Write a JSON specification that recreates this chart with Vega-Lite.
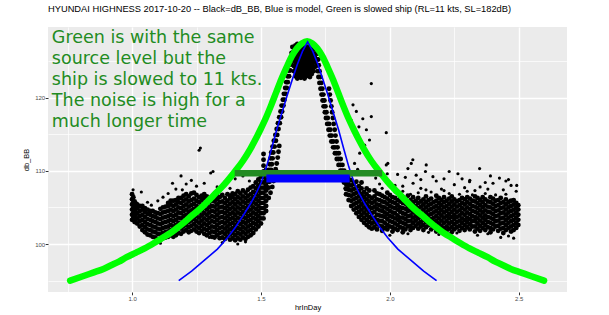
{
"$schema": "https://vega.github.io/schema/vega-lite/v6.json",
"width": 519, "height": 265,
"autosize": {"type": "none"},
"padding": {"left": 48, "top": 27, "right": 42, "bottom": 23},
"background": "white",
"title": {"text": "HYUNDAI HIGHNESS 2017-10-20 -- Black=dB_BB, Blue is model, Green is slowed ship (RL=11 kts, SL=182dB)", "anchor": "start", "frame": "group", "font": "Liberation Sans", "fontSize": 9.3, "fontWeight": "normal", "color": "black", "baseline": "alphabetic", "offset": 6},
"config": {
 "view": {"fill": "#EBEBEB", "stroke": null},
 "axis": {"domain": false, "grid": true, "gridColor": "white", "labelFont": "Liberation Sans", "titleFont": "Liberation Sans", "labelColor": "#4D4D4D", "tickColor": "#333333", "titleColor": "black", "titleFontWeight": "normal", "labelFontSize": 6, "titleFontSize": 7.5, "tickSize": 2.8, "labelOverlap": false}
},
"datasets": {
 "core": [
{"x":1.000,"y":103.3},{"x":1.000,"y":104.0},{"x":1.000,"y":104.7},{"x":1.000,"y":105.4},{"x":1.000,"y":106.1},{"x":1.000,"y":106.8},
{"x":1.005,"y":103.6},{"x":1.005,"y":104.3},{"x":1.005,"y":105.0},{"x":1.005,"y":105.7},{"x":1.005,"y":106.4},
{"x":1.010,"y":103.0},{"x":1.010,"y":103.7},{"x":1.010,"y":104.4},{"x":1.010,"y":105.1},{"x":1.010,"y":105.8},
{"x":1.015,"y":103.4},{"x":1.015,"y":104.1},{"x":1.015,"y":104.8},{"x":1.015,"y":105.5},
{"x":1.020,"y":102.8},{"x":1.020,"y":103.5},{"x":1.020,"y":104.2},{"x":1.020,"y":104.9},{"x":1.020,"y":105.4},
{"x":1.030,"y":102.4},{"x":1.030,"y":103.1},{"x":1.030,"y":103.8},{"x":1.030,"y":104.5},{"x":1.030,"y":105.2},
{"x":1.040,"y":101.9},{"x":1.040,"y":102.6},{"x":1.040,"y":103.3},{"x":1.040,"y":104.0},{"x":1.040,"y":104.7},{"x":1.040,"y":105.2},
{"x":1.050,"y":101.6},{"x":1.050,"y":102.3},{"x":1.050,"y":103.0},{"x":1.050,"y":103.7},{"x":1.050,"y":104.4},{"x":1.050,"y":104.9},
{"x":1.060,"y":101.3},{"x":1.060,"y":102.0},{"x":1.060,"y":102.7},{"x":1.060,"y":103.4},{"x":1.060,"y":104.1},{"x":1.060,"y":104.7},
{"x":1.070,"y":101.2},{"x":1.070,"y":101.9},{"x":1.070,"y":102.6},{"x":1.070,"y":103.3},{"x":1.070,"y":104.0},{"x":1.070,"y":104.5},
{"x":1.080,"y":101.0},{"x":1.080,"y":101.7},{"x":1.080,"y":102.4},{"x":1.080,"y":103.1},{"x":1.080,"y":103.8},{"x":1.080,"y":104.5},
{"x":1.090,"y":100.9},{"x":1.090,"y":101.6},{"x":1.090,"y":102.3},{"x":1.090,"y":103.0},{"x":1.090,"y":103.7},{"x":1.090,"y":104.3},
{"x":1.100,"y":100.7},{"x":1.100,"y":101.4},{"x":1.100,"y":102.1},{"x":1.100,"y":102.8},{"x":1.100,"y":103.5},{"x":1.100,"y":104.2},
{"x":1.110,"y":100.6},{"x":1.110,"y":101.3},{"x":1.110,"y":102.0},{"x":1.110,"y":102.7},{"x":1.110,"y":103.4},{"x":1.110,"y":104.1},{"x":1.110,"y":104.8},
{"x":1.120,"y":100.8},{"x":1.120,"y":101.5},{"x":1.120,"y":102.2},{"x":1.120,"y":102.9},{"x":1.120,"y":103.6},{"x":1.120,"y":104.3},{"x":1.120,"y":105.0},
{"x":1.130,"y":100.9},{"x":1.130,"y":101.6},{"x":1.130,"y":102.3},{"x":1.130,"y":103.0},{"x":1.130,"y":103.7},{"x":1.130,"y":104.4},{"x":1.130,"y":105.1},
{"x":1.140,"y":101.0},{"x":1.140,"y":101.7},{"x":1.140,"y":102.4},{"x":1.140,"y":103.1},{"x":1.140,"y":103.8},{"x":1.140,"y":104.5},{"x":1.140,"y":105.2},{"x":1.140,"y":105.6},
{"x":1.150,"y":101.2},{"x":1.150,"y":101.9},{"x":1.150,"y":102.6},{"x":1.150,"y":103.3},{"x":1.150,"y":104.0},{"x":1.150,"y":104.7},{"x":1.150,"y":105.4},{"x":1.150,"y":105.9},
{"x":1.160,"y":101.0},{"x":1.160,"y":101.7},{"x":1.160,"y":102.4},{"x":1.160,"y":103.1},{"x":1.160,"y":103.8},{"x":1.160,"y":104.5},{"x":1.160,"y":105.2},{"x":1.160,"y":105.9},
{"x":1.170,"y":101.2},{"x":1.170,"y":101.9},{"x":1.170,"y":102.6},{"x":1.170,"y":103.3},{"x":1.170,"y":104.0},{"x":1.170,"y":104.7},{"x":1.170,"y":105.4},{"x":1.170,"y":106.0},
{"x":1.180,"y":101.5},{"x":1.180,"y":102.2},{"x":1.180,"y":102.9},{"x":1.180,"y":103.6},{"x":1.180,"y":104.3},{"x":1.180,"y":105.0},{"x":1.180,"y":105.7},{"x":1.180,"y":106.3},
{"x":1.190,"y":101.4},{"x":1.190,"y":102.1},{"x":1.190,"y":102.8},{"x":1.190,"y":103.5},{"x":1.190,"y":104.2},{"x":1.190,"y":104.9},{"x":1.190,"y":105.6},{"x":1.190,"y":106.3},
{"x":1.200,"y":101.7},{"x":1.200,"y":102.4},{"x":1.200,"y":103.1},{"x":1.200,"y":103.8},{"x":1.200,"y":104.5},{"x":1.200,"y":105.2},{"x":1.200,"y":105.9},{"x":1.200,"y":106.6},
{"x":1.210,"y":101.9},{"x":1.210,"y":102.6},{"x":1.210,"y":103.3},{"x":1.210,"y":104.0},{"x":1.210,"y":104.7},{"x":1.210,"y":105.4},{"x":1.210,"y":106.1},{"x":1.210,"y":106.8},
{"x":1.220,"y":101.6},{"x":1.220,"y":102.3},{"x":1.220,"y":103.0},{"x":1.220,"y":103.7},{"x":1.220,"y":104.4},{"x":1.220,"y":105.1},{"x":1.220,"y":105.8},{"x":1.220,"y":106.5},
{"x":1.230,"y":101.8},{"x":1.230,"y":102.5},{"x":1.230,"y":103.2},{"x":1.230,"y":103.9},{"x":1.230,"y":104.6},{"x":1.230,"y":105.3},{"x":1.230,"y":106.0},{"x":1.230,"y":106.9},
{"x":1.240,"y":102.0},{"x":1.240,"y":102.7},{"x":1.240,"y":103.4},{"x":1.240,"y":104.1},{"x":1.240,"y":104.8},{"x":1.240,"y":105.5},{"x":1.240,"y":106.2},{"x":1.240,"y":107.0},
{"x":1.250,"y":101.7},{"x":1.250,"y":102.4},{"x":1.250,"y":103.1},{"x":1.250,"y":103.8},{"x":1.250,"y":104.5},{"x":1.250,"y":105.2},{"x":1.250,"y":105.9},{"x":1.250,"y":106.7},
{"x":1.260,"y":101.5},{"x":1.260,"y":102.2},{"x":1.260,"y":102.9},{"x":1.260,"y":103.6},{"x":1.260,"y":104.3},{"x":1.260,"y":105.0},{"x":1.260,"y":105.7},{"x":1.260,"y":106.4},
{"x":1.270,"y":101.8},{"x":1.270,"y":102.5},{"x":1.270,"y":103.2},{"x":1.270,"y":103.9},{"x":1.270,"y":104.6},{"x":1.270,"y":105.3},{"x":1.270,"y":106.0},{"x":1.270,"y":106.6},
{"x":1.280,"y":101.4},{"x":1.280,"y":102.1},{"x":1.280,"y":102.8},{"x":1.280,"y":103.5},{"x":1.280,"y":104.2},{"x":1.280,"y":104.9},{"x":1.280,"y":105.6},{"x":1.280,"y":106.3},{"x":1.280,"y":106.8},
{"x":1.290,"y":101.2},{"x":1.290,"y":101.9},{"x":1.290,"y":102.6},{"x":1.290,"y":103.3},{"x":1.290,"y":104.0},{"x":1.290,"y":104.7},{"x":1.290,"y":105.4},{"x":1.290,"y":106.1},{"x":1.290,"y":106.5},
{"x":1.300,"y":101.5},{"x":1.300,"y":102.2},{"x":1.300,"y":102.9},{"x":1.300,"y":103.6},{"x":1.300,"y":104.3},{"x":1.300,"y":105.0},{"x":1.300,"y":105.7},{"x":1.300,"y":106.3},
{"x":1.310,"y":101.0},{"x":1.310,"y":101.7},{"x":1.310,"y":102.4},{"x":1.310,"y":103.1},{"x":1.310,"y":103.8},{"x":1.310,"y":104.5},{"x":1.310,"y":105.2},{"x":1.310,"y":105.9},
{"x":1.320,"y":100.9},{"x":1.320,"y":101.6},{"x":1.320,"y":102.3},{"x":1.320,"y":103.0},{"x":1.320,"y":103.7},{"x":1.320,"y":104.4},{"x":1.320,"y":105.1},{"x":1.320,"y":105.8},{"x":1.320,"y":106.5},
{"x":1.330,"y":101.2},{"x":1.330,"y":101.9},{"x":1.330,"y":102.6},{"x":1.330,"y":103.3},{"x":1.330,"y":104.0},{"x":1.330,"y":104.7},{"x":1.330,"y":105.4},{"x":1.330,"y":106.1},{"x":1.330,"y":106.6},
{"x":1.340,"y":100.8},{"x":1.340,"y":101.5},{"x":1.340,"y":102.2},{"x":1.340,"y":102.9},{"x":1.340,"y":103.6},{"x":1.340,"y":104.3},{"x":1.340,"y":105.0},{"x":1.340,"y":105.7},{"x":1.340,"y":106.4},
{"x":1.350,"y":100.9},{"x":1.350,"y":101.6},{"x":1.350,"y":102.3},{"x":1.350,"y":103.0},{"x":1.350,"y":103.7},{"x":1.350,"y":104.4},{"x":1.350,"y":105.1},{"x":1.350,"y":105.8},{"x":1.350,"y":106.7},
{"x":1.360,"y":100.7},{"x":1.360,"y":101.4},{"x":1.360,"y":102.1},{"x":1.360,"y":102.8},{"x":1.360,"y":103.5},{"x":1.360,"y":104.2},{"x":1.360,"y":104.9},{"x":1.360,"y":105.6},{"x":1.360,"y":106.3},
{"x":1.370,"y":101.0},{"x":1.370,"y":101.7},{"x":1.370,"y":102.4},{"x":1.370,"y":103.1},{"x":1.370,"y":103.8},{"x":1.370,"y":104.5},{"x":1.370,"y":105.2},{"x":1.370,"y":105.9},{"x":1.370,"y":106.8},
{"x":1.380,"y":100.6},{"x":1.380,"y":101.3},{"x":1.380,"y":102.0},{"x":1.380,"y":102.7},{"x":1.380,"y":103.4},{"x":1.380,"y":104.1},{"x":1.380,"y":104.8},{"x":1.380,"y":105.5},{"x":1.380,"y":106.2},{"x":1.380,"y":106.6},
{"x":1.390,"y":100.8},{"x":1.390,"y":101.5},{"x":1.390,"y":102.2},{"x":1.390,"y":102.9},{"x":1.390,"y":103.6},{"x":1.390,"y":104.3},{"x":1.390,"y":105.0},{"x":1.390,"y":105.7},{"x":1.390,"y":106.4},{"x":1.390,"y":106.9},
{"x":1.400,"y":100.5},{"x":1.400,"y":101.2},{"x":1.400,"y":101.9},{"x":1.400,"y":102.6},{"x":1.400,"y":103.3},{"x":1.400,"y":104.0},{"x":1.400,"y":104.7},{"x":1.400,"y":105.4},{"x":1.400,"y":106.1},{"x":1.400,"y":106.8},
{"x":1.410,"y":100.8},{"x":1.410,"y":101.5},{"x":1.410,"y":102.2},{"x":1.410,"y":102.9},{"x":1.410,"y":103.6},{"x":1.410,"y":104.3},{"x":1.410,"y":105.0},{"x":1.410,"y":105.7},{"x":1.410,"y":106.4},{"x":1.410,"y":107.2},
{"x":1.420,"y":100.6},{"x":1.420,"y":101.3},{"x":1.420,"y":102.0},{"x":1.420,"y":102.7},{"x":1.420,"y":103.4},{"x":1.420,"y":104.1},{"x":1.420,"y":104.8},{"x":1.420,"y":105.5},{"x":1.420,"y":106.2},{"x":1.420,"y":106.9},
{"x":1.430,"y":100.9},{"x":1.430,"y":101.6},{"x":1.430,"y":102.3},{"x":1.430,"y":103.0},{"x":1.430,"y":103.7},{"x":1.430,"y":104.4},{"x":1.430,"y":105.1},{"x":1.430,"y":105.8},{"x":1.430,"y":106.5},{"x":1.430,"y":107.3},
{"x":1.440,"y":100.7},{"x":1.440,"y":101.4},{"x":1.440,"y":102.1},{"x":1.440,"y":102.8},{"x":1.440,"y":103.5},{"x":1.440,"y":104.2},{"x":1.440,"y":104.9},{"x":1.440,"y":105.6},{"x":1.440,"y":106.3},{"x":1.440,"y":107.0},
{"x":1.450,"y":101.0},{"x":1.450,"y":101.7},{"x":1.450,"y":102.4},{"x":1.450,"y":103.1},{"x":1.450,"y":103.8},{"x":1.450,"y":104.5},{"x":1.450,"y":105.2},{"x":1.450,"y":105.9},{"x":1.450,"y":106.6},{"x":1.450,"y":107.4},
{"x":1.460,"y":101.2},{"x":1.460,"y":101.9},{"x":1.460,"y":102.6},{"x":1.460,"y":103.3},{"x":1.460,"y":104.0},{"x":1.460,"y":104.7},{"x":1.460,"y":105.4},{"x":1.460,"y":106.1},{"x":1.460,"y":106.8},{"x":1.460,"y":107.7},
{"x":1.470,"y":101.5},{"x":1.470,"y":102.2},{"x":1.470,"y":102.9},{"x":1.470,"y":103.6},{"x":1.470,"y":104.3},{"x":1.470,"y":105.0},{"x":1.470,"y":105.7},{"x":1.470,"y":106.4},{"x":1.470,"y":107.1},{"x":1.470,"y":107.9},
{"x":1.480,"y":102.0},{"x":1.480,"y":102.7},{"x":1.480,"y":103.4},{"x":1.480,"y":104.1},{"x":1.480,"y":104.8},{"x":1.480,"y":105.5},{"x":1.480,"y":106.2},{"x":1.480,"y":106.9},{"x":1.480,"y":107.6},{"x":1.480,"y":108.4},
{"x":1.490,"y":102.4},{"x":1.490,"y":103.1},{"x":1.490,"y":103.8},{"x":1.490,"y":104.5},{"x":1.490,"y":105.2},{"x":1.490,"y":105.9},{"x":1.490,"y":106.6},{"x":1.490,"y":107.3},{"x":1.490,"y":108.0},{"x":1.490,"y":108.8},
{"x":1.500,"y":102.8},{"x":1.500,"y":103.5},{"x":1.500,"y":104.2},{"x":1.500,"y":104.9},{"x":1.500,"y":105.6},{"x":1.500,"y":106.3},{"x":1.500,"y":107.0},{"x":1.500,"y":107.7},{"x":1.500,"y":108.4},{"x":1.500,"y":109.2},
{"x":1.510,"y":103.5},{"x":1.510,"y":104.2},{"x":1.510,"y":104.9},{"x":1.510,"y":105.6},{"x":1.510,"y":106.3},{"x":1.510,"y":107.0},{"x":1.510,"y":107.7},{"x":1.510,"y":108.4},{"x":1.510,"y":109.1},{"x":1.510,"y":109.9},{"x":1.510,"y":110.7},{"x":1.510,"y":111.5},{"x":1.510,"y":112.3},
{"x":1.520,"y":104.5},{"x":1.520,"y":105.2},{"x":1.520,"y":105.9},{"x":1.520,"y":106.6},{"x":1.520,"y":107.3},{"x":1.520,"y":108.0},{"x":1.520,"y":108.7},{"x":1.520,"y":109.4},{"x":1.520,"y":110.1},
{"x":1.530,"y":106.3},{"x":1.537,"y":107.0},{"x":1.544,"y":107.8},{"x":1.549,"y":108.6},{"x":1.553,"y":109.4},{"x":1.557,"y":110.2},{"x":1.561,"y":111.0},{"x":1.565,"y":111.8},{"x":1.568,"y":112.6},{"x":1.571,"y":113.4},
{"x":1.622,"y":126.9},{"x":1.628,"y":126.9},{"x":1.619,"y":126.1},{"x":1.625,"y":126.1},{"x":1.615,"y":125.3},{"x":1.621,"y":125.3},{"x":1.611,"y":124.5},{"x":1.617,"y":124.5},{"x":1.607,"y":123.7},{"x":1.613,"y":123.7},{"x":1.603,"y":122.9},{"x":1.609,"y":122.9},{"x":1.598,"y":122.1},{"x":1.604,"y":122.1},{"x":1.594,"y":121.3},{"x":1.600,"y":121.3},{"x":1.589,"y":120.5},{"x":1.596,"y":120.5},{"x":1.585,"y":119.7},{"x":1.591,"y":119.7},{"x":1.580,"y":118.9},{"x":1.587,"y":118.9},{"x":1.576,"y":118.1},{"x":1.582,"y":118.1},{"x":1.571,"y":117.3},{"x":1.578,"y":117.3},{"x":1.566,"y":116.5},{"x":1.573,"y":116.5},{"x":1.561,"y":115.7},{"x":1.568,"y":115.7},{"x":1.556,"y":114.9},{"x":1.563,"y":114.9},{"x":1.550,"y":114.1},{"x":1.558,"y":114.1},{"x":1.545,"y":113.3},{"x":1.553,"y":113.3},{"x":1.540,"y":112.5},{"x":1.548,"y":112.5},{"x":1.537,"y":111.7},{"x":1.545,"y":111.7},{"x":1.534,"y":110.9},{"x":1.542,"y":110.9},{"x":1.531,"y":110.1},{"x":1.539,"y":110.1},{"x":1.528,"y":109.3},{"x":1.536,"y":109.3},{"x":1.525,"y":108.5},{"x":1.533,"y":108.5},{"x":1.522,"y":107.7},{"x":1.530,"y":107.7},
{"x":1.628,"y":123.6},{"x":1.628,"y":124.3},{"x":1.628,"y":125.0},{"x":1.628,"y":125.7},{"x":1.628,"y":126.4},
{"x":1.634,"y":122.9},{"x":1.634,"y":123.5},{"x":1.634,"y":124.1},{"x":1.634,"y":124.7},{"x":1.634,"y":125.3},{"x":1.634,"y":125.9},{"x":1.634,"y":126.5},{"x":1.634,"y":127.1},
{"x":1.641,"y":122.6},{"x":1.641,"y":123.2},{"x":1.641,"y":123.8},{"x":1.641,"y":124.4},{"x":1.641,"y":125.0},{"x":1.641,"y":125.6},{"x":1.641,"y":126.2},{"x":1.641,"y":126.8},{"x":1.641,"y":127.3},
{"x":1.648,"y":122.9},{"x":1.648,"y":123.5},{"x":1.648,"y":124.1},{"x":1.648,"y":124.7},{"x":1.648,"y":125.3},{"x":1.648,"y":125.9},{"x":1.648,"y":126.5},{"x":1.648,"y":127.1},
{"x":1.655,"y":122.7},{"x":1.655,"y":123.3},{"x":1.655,"y":123.9},{"x":1.655,"y":124.5},{"x":1.655,"y":125.1},{"x":1.655,"y":125.7},{"x":1.655,"y":126.3},{"x":1.655,"y":126.9},
{"x":1.662,"y":123.0},{"x":1.662,"y":123.6},{"x":1.662,"y":124.2},{"x":1.662,"y":124.8},{"x":1.662,"y":125.4},{"x":1.662,"y":126.0},{"x":1.662,"y":126.6},{"x":1.662,"y":127.2},
{"x":1.669,"y":122.6},{"x":1.669,"y":123.2},{"x":1.669,"y":123.8},{"x":1.669,"y":124.4},{"x":1.669,"y":125.0},{"x":1.669,"y":125.6},{"x":1.669,"y":126.2},{"x":1.669,"y":126.8},{"x":1.669,"y":127.3},
{"x":1.676,"y":122.9},{"x":1.676,"y":123.5},{"x":1.676,"y":124.1},{"x":1.676,"y":124.7},{"x":1.676,"y":125.3},{"x":1.676,"y":125.9},{"x":1.676,"y":126.5},{"x":1.676,"y":127.0},
{"x":1.683,"y":123.1},{"x":1.683,"y":123.7},{"x":1.683,"y":124.3},{"x":1.683,"y":124.9},{"x":1.683,"y":125.5},{"x":1.683,"y":126.1},{"x":1.683,"y":126.7},
{"x":1.690,"y":122.8},{"x":1.690,"y":123.4},{"x":1.690,"y":124.0},{"x":1.690,"y":124.6},{"x":1.690,"y":125.2},{"x":1.690,"y":125.8},{"x":1.690,"y":126.4},{"x":1.690,"y":127.0},
{"x":1.697,"y":123.2},{"x":1.697,"y":123.8},{"x":1.697,"y":124.4},{"x":1.697,"y":125.0},{"x":1.697,"y":125.6},{"x":1.697,"y":126.2},{"x":1.697,"y":126.8},
{"x":1.704,"y":123.6},{"x":1.704,"y":124.2},{"x":1.704,"y":124.8},{"x":1.704,"y":125.4},{"x":1.704,"y":126.0},{"x":1.704,"y":126.6},
{"x":1.710,"y":124.2},{"x":1.710,"y":124.8},{"x":1.710,"y":125.4},{"x":1.710,"y":126.0},
{"x":1.711,"y":126.8},{"x":1.717,"y":126.8},{"x":1.714,"y":126.0},{"x":1.720,"y":126.0},{"x":1.716,"y":125.2},{"x":1.722,"y":125.2},{"x":1.718,"y":124.4},{"x":1.724,"y":124.4},{"x":1.720,"y":123.6},{"x":1.727,"y":123.6},{"x":1.723,"y":122.8},{"x":1.730,"y":122.8},{"x":1.727,"y":122.0},{"x":1.734,"y":122.0},
{"x":1.731,"y":121.2},{"x":1.738,"y":121.2},{"x":1.764,"y":121.2},{"x":1.735,"y":120.4},{"x":1.742,"y":120.4},{"x":1.767,"y":120.4},{"x":1.739,"y":119.6},{"x":1.746,"y":119.6},{"x":1.770,"y":119.6},{"x":1.743,"y":118.8},{"x":1.750,"y":118.8},{"x":1.773,"y":118.8},{"x":1.748,"y":118.0},{"x":1.754,"y":118.0},{"x":1.776,"y":118.0},{"x":1.752,"y":117.2},{"x":1.759,"y":117.2},{"x":1.779,"y":117.2},{"x":1.757,"y":116.4},{"x":1.764,"y":116.4},{"x":1.782,"y":116.4},{"x":1.762,"y":115.6},{"x":1.769,"y":115.6},{"x":1.786,"y":115.6},{"x":1.767,"y":114.8},{"x":1.774,"y":114.8},{"x":1.789,"y":114.8},{"x":1.773,"y":114.0},{"x":1.780,"y":114.0},{"x":1.793,"y":114.0},{"x":1.780,"y":113.2},{"x":1.787,"y":113.2},{"x":1.797,"y":113.2},{"x":1.787,"y":112.4},{"x":1.794,"y":112.4},{"x":1.802,"y":112.4},{"x":1.794,"y":111.6},{"x":1.801,"y":111.6},{"x":1.809,"y":111.6},{"x":1.801,"y":110.8},{"x":1.808,"y":110.8},{"x":1.816,"y":110.8},{"x":1.808,"y":110.0},{"x":1.815,"y":110.0},{"x":1.823,"y":110.0},{"x":1.815,"y":109.2},{"x":1.822,"y":109.2},{"x":1.830,"y":109.2},{"x":1.838,"y":109.2},{"x":1.822,"y":108.4},{"x":1.829,"y":108.4},{"x":1.837,"y":108.4},{"x":1.829,"y":107.6},{"x":1.836,"y":107.6},
{"x":1.830,"y":106.8},{"x":1.830,"y":107.5},{"x":1.830,"y":108.2},{"x":1.830,"y":108.9},
{"x":1.840,"y":106.0},{"x":1.840,"y":106.7},{"x":1.840,"y":107.4},{"x":1.840,"y":108.1},{"x":1.840,"y":108.8},
{"x":1.850,"y":105.2},{"x":1.850,"y":105.9},{"x":1.850,"y":106.6},{"x":1.850,"y":107.3},{"x":1.850,"y":108.0},{"x":1.850,"y":108.7},
{"x":1.860,"y":104.7},{"x":1.860,"y":105.4},{"x":1.860,"y":106.1},{"x":1.860,"y":106.8},{"x":1.860,"y":107.5},{"x":1.860,"y":108.2},
{"x":1.870,"y":104.2},{"x":1.870,"y":104.9},{"x":1.870,"y":105.6},{"x":1.870,"y":106.3},{"x":1.870,"y":107.0},{"x":1.870,"y":107.7},{"x":1.870,"y":108.5},
{"x":1.880,"y":103.7},{"x":1.880,"y":104.4},{"x":1.880,"y":105.1},{"x":1.880,"y":105.8},{"x":1.880,"y":106.5},{"x":1.880,"y":107.2},{"x":1.880,"y":107.9},
{"x":1.890,"y":103.3},{"x":1.890,"y":104.0},{"x":1.890,"y":104.7},{"x":1.890,"y":105.4},{"x":1.890,"y":106.1},{"x":1.890,"y":106.8},{"x":1.890,"y":107.6},{"x":1.890,"y":108.4},
{"x":1.900,"y":102.9},{"x":1.900,"y":103.6},{"x":1.900,"y":104.3},{"x":1.900,"y":105.0},{"x":1.900,"y":105.7},{"x":1.900,"y":106.4},{"x":1.900,"y":107.1},
{"x":1.910,"y":102.6},{"x":1.910,"y":103.3},{"x":1.910,"y":104.0},{"x":1.910,"y":104.7},{"x":1.910,"y":105.4},{"x":1.910,"y":106.1},{"x":1.910,"y":106.8},{"x":1.910,"y":107.6},
{"x":1.920,"y":102.3},{"x":1.920,"y":103.0},{"x":1.920,"y":103.7},{"x":1.920,"y":104.4},{"x":1.920,"y":105.1},{"x":1.920,"y":105.8},{"x":1.920,"y":106.5},{"x":1.920,"y":107.3},
{"x":1.930,"y":102.1},{"x":1.930,"y":102.8},{"x":1.930,"y":103.5},{"x":1.930,"y":104.2},{"x":1.930,"y":104.9},{"x":1.930,"y":105.6},{"x":1.930,"y":106.3},
{"x":1.940,"y":102.3},{"x":1.940,"y":103.0},{"x":1.940,"y":103.6},{"x":1.940,"y":104.4},{"x":1.940,"y":105.1},{"x":1.940,"y":105.8},{"x":1.940,"y":106.5},{"x":1.940,"y":107.3},
{"x":1.950,"y":102.0},{"x":1.950,"y":102.7},{"x":1.950,"y":103.3},{"x":1.950,"y":104.0},{"x":1.950,"y":104.8},{"x":1.950,"y":105.4},{"x":1.950,"y":106.1},{"x":1.950,"y":106.9},
{"x":1.960,"y":102.5},{"x":1.960,"y":103.2},{"x":1.960,"y":103.9},{"x":1.960,"y":104.6},{"x":1.960,"y":105.3},{"x":1.960,"y":106.0},{"x":1.960,"y":106.8},
{"x":1.970,"y":101.8},{"x":1.970,"y":102.4},{"x":1.970,"y":103.1},{"x":1.970,"y":103.8},{"x":1.970,"y":104.5},{"x":1.970,"y":105.1},{"x":1.970,"y":105.8},{"x":1.970,"y":106.6},
{"x":1.980,"y":102.2},{"x":1.980,"y":102.9},{"x":1.980,"y":103.7},{"x":1.980,"y":104.3},{"x":1.980,"y":105.0},{"x":1.980,"y":105.7},{"x":1.980,"y":106.4},
{"x":1.990,"y":102.0},{"x":1.990,"y":102.6},{"x":1.990,"y":103.4},{"x":1.990,"y":104.1},{"x":1.990,"y":104.8},{"x":1.990,"y":105.5},{"x":1.990,"y":106.2},{"x":1.990,"y":107.0},
{"x":2.000,"y":102.4},{"x":2.000,"y":103.1},{"x":2.000,"y":103.8},{"x":2.000,"y":104.5},{"x":2.000,"y":105.2},{"x":2.000,"y":105.9},{"x":2.000,"y":106.7},
{"x":2.010,"y":101.7},{"x":2.010,"y":102.3},{"x":2.010,"y":103.0},{"x":2.010,"y":103.7},{"x":2.010,"y":104.3},{"x":2.010,"y":105.0},{"x":2.010,"y":105.7},{"x":2.010,"y":106.4},
{"x":2.020,"y":102.1},{"x":2.020,"y":102.8},{"x":2.020,"y":103.5},{"x":2.020,"y":104.2},{"x":2.020,"y":104.9},{"x":2.020,"y":105.6},{"x":2.020,"y":106.3},
{"x":2.030,"y":101.9},{"x":2.030,"y":102.6},{"x":2.030,"y":103.3},{"x":2.030,"y":103.9},{"x":2.030,"y":104.7},{"x":2.030,"y":105.3},{"x":2.030,"y":106.0},
{"x":2.040,"y":102.3},{"x":2.040,"y":103.0},{"x":2.040,"y":103.6},{"x":2.040,"y":104.4},{"x":2.040,"y":105.0},{"x":2.040,"y":105.8},{"x":2.040,"y":106.5},
{"x":2.050,"y":101.6},{"x":2.050,"y":102.2},{"x":2.050,"y":102.9},{"x":2.050,"y":103.6},{"x":2.050,"y":104.2},{"x":2.050,"y":104.9},{"x":2.050,"y":105.6},{"x":2.050,"y":106.3},
{"x":2.060,"y":102.0},{"x":2.060,"y":102.7},{"x":2.060,"y":103.4},{"x":2.060,"y":104.1},{"x":2.060,"y":104.8},{"x":2.060,"y":105.5},{"x":2.060,"y":106.2},
{"x":2.070,"y":102.4},{"x":2.070,"y":103.1},{"x":2.070,"y":103.8},{"x":2.070,"y":104.5},{"x":2.070,"y":105.1},{"x":2.070,"y":105.8},{"x":2.070,"y":106.6},
{"x":2.080,"y":101.9},{"x":2.080,"y":102.5},{"x":2.080,"y":103.2},{"x":2.080,"y":103.9},{"x":2.080,"y":104.6},{"x":2.080,"y":105.3},{"x":2.080,"y":106.0},
{"x":2.090,"y":102.2},{"x":2.090,"y":102.9},{"x":2.090,"y":103.6},{"x":2.090,"y":104.3},{"x":2.090,"y":105.0},{"x":2.090,"y":105.7},{"x":2.090,"y":106.4},
{"x":2.100,"y":102.5},{"x":2.100,"y":103.2},{"x":2.100,"y":103.8},{"x":2.100,"y":104.5},{"x":2.100,"y":105.2},{"x":2.100,"y":105.9},
{"x":2.110,"y":102.1},{"x":2.110,"y":102.8},{"x":2.110,"y":103.5},{"x":2.110,"y":104.2},{"x":2.110,"y":104.9},{"x":2.110,"y":105.6},{"x":2.110,"y":106.3},
{"x":2.120,"y":102.4},{"x":2.120,"y":103.0},{"x":2.120,"y":103.7},{"x":2.120,"y":104.4},{"x":2.120,"y":105.1},{"x":2.120,"y":105.8},
{"x":2.130,"y":101.9},{"x":2.130,"y":102.6},{"x":2.130,"y":103.3},{"x":2.130,"y":104.0},{"x":2.130,"y":104.7},{"x":2.130,"y":105.4},{"x":2.130,"y":106.1},
{"x":2.140,"y":102.3},{"x":2.140,"y":103.0},{"x":2.140,"y":103.7},{"x":2.140,"y":104.3},{"x":2.140,"y":105.0},{"x":2.140,"y":105.7},{"x":2.140,"y":106.5},
{"x":2.150,"y":102.6},{"x":2.150,"y":103.2},{"x":2.150,"y":103.9},{"x":2.150,"y":104.6},{"x":2.150,"y":105.3},{"x":2.150,"y":106.0},
{"x":2.160,"y":102.0},{"x":2.160,"y":102.7},{"x":2.160,"y":103.4},{"x":2.160,"y":104.1},{"x":2.160,"y":104.8},{"x":2.160,"y":105.5},{"x":2.160,"y":106.2},
{"x":2.170,"y":102.3},{"x":2.170,"y":103.0},{"x":2.170,"y":103.6},{"x":2.170,"y":104.3},{"x":2.170,"y":105.0},{"x":2.170,"y":105.7},
{"x":2.180,"y":101.7},{"x":2.180,"y":102.4},{"x":2.180,"y":103.1},{"x":2.180,"y":103.8},{"x":2.180,"y":104.5},{"x":2.180,"y":105.2},{"x":2.180,"y":105.9},{"x":2.180,"y":106.6},
{"x":2.190,"y":102.1},{"x":2.190,"y":102.8},{"x":2.190,"y":103.5},{"x":2.190,"y":104.2},{"x":2.190,"y":104.9},{"x":2.190,"y":105.6},{"x":2.190,"y":106.3},
{"x":2.200,"y":101.9},{"x":2.200,"y":102.5},{"x":2.200,"y":103.2},{"x":2.200,"y":103.9},{"x":2.200,"y":104.6},{"x":2.200,"y":105.3},{"x":2.200,"y":106.0},
{"x":2.210,"y":102.2},{"x":2.210,"y":102.9},{"x":2.210,"y":103.6},{"x":2.210,"y":104.3},{"x":2.210,"y":105.0},{"x":2.210,"y":105.7},{"x":2.210,"y":106.4},
{"x":2.220,"y":101.8},{"x":2.220,"y":102.4},{"x":2.220,"y":103.1},{"x":2.220,"y":103.8},{"x":2.220,"y":104.5},{"x":2.220,"y":105.2},{"x":2.220,"y":105.9},
{"x":2.230,"y":102.1},{"x":2.230,"y":102.8},{"x":2.230,"y":103.5},{"x":2.230,"y":104.1},{"x":2.230,"y":104.8},{"x":2.230,"y":105.5},{"x":2.230,"y":106.2},
{"x":2.240,"y":101.6},{"x":2.240,"y":102.3},{"x":2.240,"y":103.0},{"x":2.240,"y":103.7},{"x":2.240,"y":104.4},{"x":2.240,"y":105.1},{"x":2.240,"y":105.8},{"x":2.240,"y":106.5},
{"x":2.250,"y":102.0},{"x":2.250,"y":102.7},{"x":2.250,"y":103.4},{"x":2.250,"y":104.0},{"x":2.250,"y":104.7},{"x":2.250,"y":105.4},{"x":2.250,"y":106.1},
{"x":2.260,"y":102.3},{"x":2.260,"y":103.0},{"x":2.260,"y":103.7},{"x":2.260,"y":104.4},{"x":2.260,"y":105.1},{"x":2.260,"y":105.8},
{"x":2.270,"y":101.8},{"x":2.270,"y":102.5},{"x":2.270,"y":103.2},{"x":2.270,"y":103.9},{"x":2.270,"y":104.6},{"x":2.270,"y":105.3},{"x":2.270,"y":106.0},
{"x":2.280,"y":102.2},{"x":2.280,"y":102.9},{"x":2.280,"y":103.5},{"x":2.280,"y":104.2},{"x":2.280,"y":104.9},{"x":2.280,"y":105.6},{"x":2.280,"y":106.3},
{"x":2.290,"y":101.9},{"x":2.290,"y":102.6},{"x":2.290,"y":103.3},{"x":2.290,"y":104.0},{"x":2.290,"y":104.7},{"x":2.290,"y":105.4},{"x":2.290,"y":106.1},
{"x":2.300,"y":102.3},{"x":2.300,"y":103.0},{"x":2.300,"y":103.6},{"x":2.300,"y":104.3},{"x":2.300,"y":105.0},{"x":2.300,"y":105.7},{"x":2.300,"y":106.4},
{"x":2.310,"y":102.0},{"x":2.310,"y":102.7},{"x":2.310,"y":103.4},{"x":2.310,"y":104.1},{"x":2.310,"y":104.8},{"x":2.310,"y":105.5},{"x":2.310,"y":106.2},
{"x":2.320,"y":102.4},{"x":2.320,"y":103.1},{"x":2.320,"y":103.8},{"x":2.320,"y":104.5},{"x":2.320,"y":105.2},{"x":2.320,"y":105.9},
{"x":2.330,"y":101.7},{"x":2.330,"y":102.4},{"x":2.330,"y":103.1},{"x":2.330,"y":103.7},{"x":2.330,"y":104.4},{"x":2.330,"y":105.1},{"x":2.330,"y":105.8},{"x":2.330,"y":106.5},
{"x":2.340,"y":102.1},{"x":2.340,"y":102.8},{"x":2.340,"y":103.5},{"x":2.340,"y":104.2},{"x":2.340,"y":104.9},{"x":2.340,"y":105.6},{"x":2.340,"y":106.3},
{"x":2.350,"y":101.8},{"x":2.350,"y":102.5},{"x":2.350,"y":103.2},{"x":2.350,"y":103.9},{"x":2.350,"y":104.6},{"x":2.350,"y":105.3},{"x":2.350,"y":106.0},
{"x":2.360,"y":102.2},{"x":2.360,"y":102.9},{"x":2.360,"y":103.6},{"x":2.360,"y":104.3},{"x":2.360,"y":105.0},{"x":2.360,"y":105.7},{"x":2.360,"y":106.4},
{"x":2.370,"y":101.9},{"x":2.370,"y":102.6},{"x":2.370,"y":103.3},{"x":2.370,"y":103.9},{"x":2.370,"y":104.6},{"x":2.370,"y":105.3},{"x":2.370,"y":106.1},
{"x":2.380,"y":102.3},{"x":2.380,"y":103.0},{"x":2.380,"y":103.7},{"x":2.380,"y":104.4},{"x":2.380,"y":105.1},{"x":2.380,"y":105.8},
{"x":2.390,"y":101.6},{"x":2.390,"y":102.2},{"x":2.390,"y":102.9},{"x":2.390,"y":103.6},{"x":2.390,"y":104.3},{"x":2.390,"y":105.0},{"x":2.390,"y":105.7},{"x":2.390,"y":106.4},
{"x":2.400,"y":102.0},{"x":2.400,"y":102.7},{"x":2.400,"y":103.4},{"x":2.400,"y":104.1},{"x":2.400,"y":104.8},{"x":2.400,"y":105.5},{"x":2.400,"y":106.2},
{"x":2.410,"y":102.4},{"x":2.410,"y":103.1},{"x":2.410,"y":103.8},{"x":2.410,"y":104.5},{"x":2.410,"y":105.2},{"x":2.410,"y":105.9},
{"x":2.420,"y":101.8},{"x":2.420,"y":102.5},{"x":2.420,"y":103.2},{"x":2.420,"y":103.9},{"x":2.420,"y":104.6},{"x":2.420,"y":105.3},{"x":2.420,"y":106.0},
{"x":2.430,"y":102.1},{"x":2.430,"y":102.8},{"x":2.430,"y":103.5},{"x":2.430,"y":104.2},{"x":2.430,"y":104.9},{"x":2.430,"y":105.6},{"x":2.430,"y":106.3},
{"x":2.440,"y":101.5},{"x":2.440,"y":102.2},{"x":2.440,"y":102.9},{"x":2.440,"y":103.6},{"x":2.440,"y":104.3},{"x":2.440,"y":105.0},{"x":2.440,"y":105.7},
{"x":2.450,"y":101.9},{"x":2.450,"y":102.6},{"x":2.450,"y":103.3},{"x":2.450,"y":104.0},{"x":2.450,"y":104.7},{"x":2.450,"y":105.4},{"x":2.450,"y":106.1},
{"x":2.460,"y":102.2},{"x":2.460,"y":102.9},{"x":2.460,"y":103.6},{"x":2.460,"y":104.3},{"x":2.460,"y":105.0},{"x":2.460,"y":105.7},
{"x":2.470,"y":101.7},{"x":2.470,"y":102.4},{"x":2.470,"y":103.1},{"x":2.470,"y":103.8},{"x":2.470,"y":104.5},{"x":2.470,"y":105.2},{"x":2.470,"y":105.9},
{"x":2.480,"y":101.9},{"x":2.480,"y":102.6},{"x":2.480,"y":103.3},{"x":2.480,"y":104.0},{"x":2.480,"y":104.7},{"x":2.480,"y":105.4},{"x":2.480,"y":106.0},
{"x":2.490,"y":102.2},{"x":2.490,"y":102.9},{"x":2.490,"y":103.6},{"x":2.490,"y":104.3},{"x":2.490,"y":105.0},{"x":2.490,"y":105.6},
{"x":2.498,"y":102.6},{"x":2.498,"y":103.3},{"x":2.498,"y":104.0},{"x":2.498,"y":104.7},{"x":2.498,"y":105.3}
 ],
 "sc": [
{"x":1.004,"y":107.4},{"x":1.036,"y":107.1},{"x":1.190,"y":109.3},{"x":1.157,"y":108.3},{"x":1.260,"y":112.8},{"x":1.305,"y":109.7},{"x":1.265,"y":113.1},{"x":1.314,"y":109.9},{"x":1.100,"y":105.9},{"x":1.140,"y":106.9},{"x":1.170,"y":107.5},{"x":1.210,"y":108.2},{"x":1.230,"y":108.7},{"x":1.250,"y":107.9},{"x":1.280,"y":108.3},{"x":1.330,"y":107.8},{"x":1.360,"y":108.5},{"x":1.400,"y":108.9},{"x":1.430,"y":109.3},{"x":1.380,"y":107.6},{"x":1.120,"y":106.4},{"x":1.060,"y":105.7},{"x":1.350,"y":100.2},{"x":1.410,"y":100.0},{"x":1.440,"y":100.3},{"x":1.090,"y":100.4},{"x":1.110,"y":100.1},{"x":1.300,"y":100.9},{"x":1.075,"y":105.3},{"x":1.195,"y":107.4},{"x":1.345,"y":107.5},{"x":1.455,"y":108.6},
{"x":1.857,"y":119.0},{"x":1.870,"y":118.1},{"x":1.895,"y":117.1},{"x":1.850,"y":116.9},{"x":1.928,"y":117.4},{"x":1.880,"y":116.0},{"x":1.909,"y":115.6},{"x":1.921,"y":114.2},{"x":1.870,"y":114.6},{"x":1.902,"y":113.5},{"x":1.883,"y":112.4},{"x":1.915,"y":111.9},{"x":1.934,"y":111.2},{"x":1.863,"y":111.0},{"x":1.986,"y":115.2},{"x":1.928,"y":121.9},{"x":1.992,"y":111.0},{"x":1.960,"y":110.1},{"x":2.089,"y":111.5},{"x":1.895,"y":109.6},{"x":1.875,"y":110.2},{"x":1.945,"y":109.0},
{"x":2.000,"y":101.2},{"x":2.070,"y":101.4},{"x":2.150,"y":101.6},{"x":2.190,"y":101.3},{"x":2.260,"y":101.5},{"x":2.340,"y":101.2},{"x":2.380,"y":101.4},{"x":2.430,"y":100.9},{"x":2.460,"y":101.1},{"x":2.480,"y":100.8},
{"x":1.960,"y":108.2},{"x":2.020,"y":108.0},{"x":2.050,"y":107.9},{"x":2.090,"y":108.3},{"x":2.120,"y":107.6},{"x":2.180,"y":108.6},{"x":2.200,"y":107.5},{"x":2.250,"y":108.1},{"x":2.290,"y":107.7},{"x":2.310,"y":108.7},{"x":2.350,"y":107.8},{"x":2.400,"y":108.3},{"x":2.440,"y":107.4},{"x":2.470,"y":108.0},{"x":2.490,"y":107.2},{"x":2.380,"y":107.5},{"x":2.140,"y":107.4},{"x":2.330,"y":107.3},
{"x":1.986,"y":110.8},{"x":2.070,"y":110.3},{"x":2.083,"y":111.0},{"x":2.102,"y":109.4},{"x":2.141,"y":110.8},{"x":2.138,"y":109.9},{"x":2.167,"y":109.2},{"x":2.264,"y":109.6},{"x":2.309,"y":108.5},{"x":2.348,"y":110.3},{"x":2.425,"y":109.0},{"x":2.492,"y":108.0},{"x":2.030,"y":109.5},{"x":2.210,"y":108.9},{"x":2.390,"y":109.3},{"x":2.450,"y":108.6},{"x":2.120,"y":108.8},{"x":2.280,"y":108.9},{"x":2.370,"y":108.4},{"x":2.060,"y":109.1},{"x":1.990,"y":109.6},{"x":2.230,"y":109.9},{"x":2.460,"y":108.8},
{"x":1.970,"y":107.6},{"x":2.020,"y":107.1},{"x":2.050,"y":107.2},{"x":2.080,"y":106.8},{"x":2.110,"y":107.0},{"x":2.160,"y":107.1},{"x":2.210,"y":107.3},{"x":2.230,"y":106.9},{"x":2.270,"y":106.8},{"x":2.300,"y":107.2},{"x":2.320,"y":106.7},{"x":2.370,"y":106.9},{"x":2.410,"y":106.7},{"x":2.450,"y":106.8}
 ],
 "green": [
{"x":0.760,"y":95.0},{"x":0.809,"y":95.6},{"x":0.849,"y":96.1},{"x":0.889,"y":96.6},{"x":0.919,"y":97.1},{"x":0.949,"y":97.6},{"x":0.979,"y":98.2},{"x":1.014,"y":98.8},{"x":1.049,"y":99.4},{"x":1.084,"y":100.1},{"x":1.119,"y":100.85},{"x":1.149,"y":101.5},{"x":1.179,"y":102.3},{"x":1.204,"y":103.0},{"x":1.229,"y":103.8},{"x":1.254,"y":104.5},{"x":1.279,"y":105.3},{"x":1.304,"y":106.2},{"x":1.329,"y":107.1},{"x":1.349,"y":107.8},{"x":1.369,"y":108.6},{"x":1.399,"y":109.9},{"x":1.429,"y":111.3},{"x":1.459,"y":113.0},{"x":1.479,"y":114.3},{"x":1.499,"y":115.7},{"x":1.519,"y":117.2},{"x":1.539,"y":118.9},{"x":1.559,"y":120.7},{"x":1.579,"y":122.5},{"x":1.599,"y":124.1},{"x":1.619,"y":125.6},{"x":1.639,"y":126.7},{"x":1.659,"y":127.4},{"x":1.679,"y":127.7},
{"x":1.699,"y":127.4},{"x":1.719,"y":126.7},{"x":1.739,"y":125.6},{"x":1.759,"y":124.1},{"x":1.779,"y":122.5},{"x":1.799,"y":120.7},{"x":1.819,"y":118.9},{"x":1.839,"y":117.2},{"x":1.859,"y":115.7},{"x":1.879,"y":114.3},{"x":1.899,"y":113.0},{"x":1.929,"y":111.3},{"x":1.959,"y":109.9},{"x":1.989,"y":108.6},{"x":2.009,"y":107.8},{"x":2.029,"y":107.1},{"x":2.054,"y":106.2},{"x":2.079,"y":105.3},{"x":2.104,"y":104.5},{"x":2.129,"y":103.8},{"x":2.154,"y":103.0},{"x":2.179,"y":102.3},{"x":2.209,"y":101.5},{"x":2.239,"y":100.85},{"x":2.274,"y":100.1},{"x":2.309,"y":99.4},{"x":2.344,"y":98.8},{"x":2.379,"y":98.2},{"x":2.409,"y":97.6},{"x":2.439,"y":97.1},{"x":2.469,"y":96.6},{"x":2.509,"y":96.1},{"x":2.549,"y":95.6},{"x":2.598,"y":95.0}
 ],
 "blue": [
{"x":1.181,"y":95.0},{"x":1.231,"y":96.3},{"x":1.281,"y":97.8},{"x":1.331,"y":99.3},{"x":1.371,"y":100.9},{"x":1.401,"y":102.3},{"x":1.431,"y":103.9},{"x":1.461,"y":105.6},{"x":1.481,"y":106.9},{"x":1.501,"y":108.4},{"x":1.521,"y":110.5},{"x":1.541,"y":113.0},{"x":1.561,"y":115.6},{"x":1.581,"y":117.9},{"x":1.601,"y":120.2},{"x":1.621,"y":122.4},{"x":1.641,"y":124.5},{"x":1.661,"y":126.3},{"x":1.681,"y":127.6},
{"x":1.701,"y":126.3},{"x":1.721,"y":124.5},{"x":1.741,"y":122.4},{"x":1.761,"y":120.2},{"x":1.781,"y":117.9},{"x":1.801,"y":115.6},{"x":1.821,"y":113.0},{"x":1.841,"y":110.5},{"x":1.861,"y":108.4},{"x":1.881,"y":106.9},{"x":1.901,"y":105.6},{"x":1.931,"y":103.9},{"x":1.961,"y":102.3},{"x":1.991,"y":100.9},{"x":2.031,"y":99.3},{"x":2.081,"y":97.8},{"x":2.131,"y":96.3},{"x":2.181,"y":95.0}
 ]
},
"layer": [
 {
  "data": {"name": "core"},
  "mark": {"type": "point", "filled": true, "shape": "circle", "size": 24, "color": "black", "opacity": 1, "strokeWidth": 0},
  "encoding": {
   "x": {"field": "x", "type": "quantitative", "scale": {"domain": [0.674, 2.687], "nice": false, "zero": false},
     "axis": {"values": [0.75,1,1.25,1.5,1.75,2,2.25,2.5], "labelExpr": "datum.value % 0.5 === 0 ? format(datum.value, '.1f') : ''",
       "gridWidth": {"condition": {"test": "datum.value % 0.5 === 0", "value": 1.4}, "value": 0.7},
       "tickOpacity": {"condition": {"test": "datum.value % 0.5 === 0", "value": 1}, "value": 0},
       "title": "hrInDay", "labelPadding": 0.5, "titlePadding": 2, "labelFlush": false}},
   "y": {"field": "y", "type": "quantitative", "scale": {"domain": [93.45, 129.63], "nice": false, "zero": false},
     "axis": {"values": [95,100,105,110,115,120,125], "labelExpr": "datum.value % 10 === 0 ? format(datum.value, 'd') : ''",
       "gridWidth": {"condition": {"test": "datum.value % 10 === 0", "value": 1.4}, "value": 0.7},
       "tickOpacity": {"condition": {"test": "datum.value % 10 === 0", "value": 1}, "value": 0},
       "title": "db_BB", "labelPadding": 0.5, "titlePadding": 4, "labelFlush": false}}
  }
 },
 {
  "data": {"name": "sc"},
  "mark": {"type": "point", "filled": true, "shape": "circle", "size": 10, "color": "black", "opacity": 1, "strokeWidth": 0},
  "encoding": {"x": {"field": "x", "type": "quantitative"}, "y": {"field": "y", "type": "quantitative"}}
 },
 {
  "data": {"name": "green"},
  "mark": {"type": "line", "color": "#00FF00", "strokeWidth": 6.5, "strokeCap": "round", "interpolate": "monotone"},
  "encoding": {"x": {"field": "x", "type": "quantitative"}, "y": {"field": "y", "type": "quantitative"}}
 },
 {
  "data": {"name": "blue"},
  "mark": {"type": "line", "color": "#0000FF", "strokeWidth": 1.6},
  "encoding": {"x": {"field": "x", "type": "quantitative"}, "y": {"field": "y", "type": "quantitative"}}
 },
 {
  "data": {"values": [{"x": 1.398, "x2": 1.970, "y": 109.65}]},
  "mark": {"type": "rule", "color": "#228B22", "strokeWidth": 6.5},
  "encoding": {"x": {"field": "x", "type": "quantitative"}, "x2": {"field": "x2"}, "y": {"field": "y", "type": "quantitative"}}
 },
 {
  "data": {"values": [{"x": 1.521, "x2": 1.844, "y": 108.96}]},
  "mark": {"type": "rule", "color": "#0000FF", "strokeWidth": 8},
  "encoding": {"x": {"field": "x", "type": "quantitative"}, "x2": {"field": "x2"}, "y": {"field": "y", "type": "quantitative"}}
 },
 {
  "data": {"values": [{"label": "Green is with the same\nsource level but the\nship is slowed to 11 kts.\nThe noise is high for a\nmuch longer time"}]},
  "mark": {"type": "text", "align": "left", "baseline": "alphabetic", "font": "DejaVu Sans", "fontSize": 17.5, "lineHeight": 20.8, "lineBreak": "\n", "color": "#228B22"},
  "encoding": {"x": {"datum": 0.689, "type": "quantitative"}, "y": {"datum": 127.38, "type": "quantitative"}, "text": {"field": "label"}}
 }
]
}
